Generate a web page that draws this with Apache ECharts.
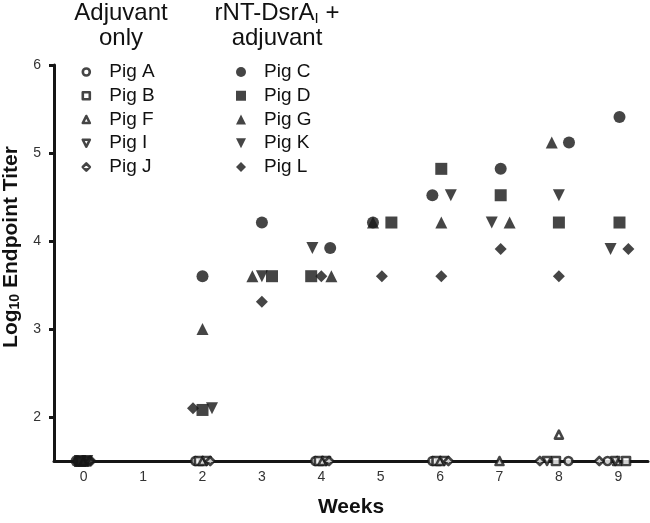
<!DOCTYPE html>
<html>
<head>
<meta charset="utf-8">
<script src="https://cdn.jsdelivr.net/npm/echarts@6/dist/echarts.min.js"></script>
<style>
html,body{margin:0;padding:0;background:#fff;}
#chart{width:650px;height:523px;}
</style>
</head>
<body>
<div id="chart"></div>
<script>
// ---- data (x = week with the small horizontal spread seen in the figure, y = log10 titer) ----
const xTickLabels = [0, 1, 2, 3, 4, 5, 6, 7, 8, 9];
const yTickLabels = [2, 3, 4, 5, 6];

// Adjuvant only (open symbols)
const pigA = [[-0.10,1.5],[1.88,1.5],[3.90,1.5],[5.87,1.5],[8.16,1.5],[8.82,1.5]];
const pigB = [[-0.05,1.5],[1.94,1.5],[3.96,1.5],[5.94,1.5],[7.95,1.5],[9.13,1.5]];
const pigF = [[0.00,1.5],[2.00,1.5],[4.02,1.5],[6.00,1.5],[7.00,1.5],[8.00,1.8],[8.98,1.5]];
const pigI = [[0.05,1.5],[2.07,1.5],[4.08,1.5],[6.07,1.5],[7.80,1.5],[8.95,1.5]];
const pigJ = [[0.10,1.5],[2.13,1.5],[4.13,1.5],[6.14,1.5],[7.68,1.5],[8.68,1.5]];

// rNT-DsrA_I + adjuvant (filled symbols)
const pigC = [[-0.12,1.5],[2.00,3.6],[3.00,4.21],[4.15,3.92],[4.87,4.21],[5.87,4.52],[7.02,4.82],[8.17,5.12],[9.02,5.41]];
const pigD = [[-0.06,1.5],[2.00,2.08],[3.17,3.6],[3.83,3.6],[5.18,4.21],[6.02,4.82],[7.02,4.52],[8.00,4.21],[9.02,4.21]];
const pigG = [[0.00,1.5],[2.00,3.0],[2.84,3.6],[4.17,3.6],[4.87,4.21],[6.02,4.21],[7.17,4.21],[7.88,5.12]];
const pigK = [[0.06,1.5],[2.16,2.1],[3.00,3.6],[3.85,3.92],[6.18,4.52],[6.87,4.21],[8.00,4.52],[8.87,3.91]];
const pigL = [[0.12,1.5],[1.84,2.1],[3.00,3.31],[4.00,3.6],[5.02,3.6],[6.02,3.6],[7.02,3.91],[8.00,3.6],[9.17,3.91]];

const adjuvantPigs = ['Pig A', 'Pig B', 'Pig F', 'Pig I', 'Pig J'];
const vaccinePigs = ['Pig C', 'Pig D', 'Pig G', 'Pig K', 'Pig L'];

const INV_TRI = 'path://M0,0L10,0L5,10Z';
const INK = '#161616';
const OPEN_BORDER = 2.6;

function openSeries(name, data, symbol) {
  return {
    name, type: 'scatter', data, symbol, symbolSize: 8, clip: false,
    itemStyle: { color: '#ffffff', borderColor: INK, borderWidth: OPEN_BORDER, borderJoin: 'round' },
    emphasis: { disabled: true }
  };
}
function filledSeries(name, data, symbol) {
  return {
    name, type: 'scatter', data, symbol, symbolSize: 12, clip: false,
    itemStyle: { color: INK, borderWidth: 0 },
    emphasis: { disabled: true }
  };
}

const chart = echarts.init(document.getElementById('chart'), null, { renderer: 'canvas' });

chart.setOption({
  animation: false,
  backgroundColor: '#ffffff',
  title: [
    {
      text: 'Adjuvant\nonly', left: 121, top: 1, textAlign: 'center', padding: 0,
      textStyle: { fontFamily: 'Liberation Sans', fontSize: 24, fontWeight: 'normal', color: '#111', lineHeight: 25 }
    },
    {
      text: 'rNT-DsrA{sub|I} +\nadjuvant', left: 277, top: 1, textAlign: 'center', padding: 0,
      textStyle: {
        fontFamily: 'Liberation Sans', fontSize: 24, fontWeight: 'normal', color: '#111', lineHeight: 25,
        rich: { sub: { fontFamily: 'Liberation Sans', fontSize: 15, color: '#111', verticalAlign: 'bottom', lineHeight: 25, padding: [8, 0, 0, 0] } }
      }
    }
  ],
  legend: [
    {
      data: adjuvantPigs.map(n => ({ name: n, itemStyle: { borderWidth: OPEN_BORDER, borderColor: INK, borderJoin: 'round' } })),
      orient: 'vertical', left: 81.5, top: 62, padding: 0, itemGap: 3.75,
      itemWidth: 7, itemHeight: 7,
      textStyle: { fontFamily: 'Liberation Sans', fontSize: 19, color: '#111', lineHeight: 20, padding: [0, 0, 0, 14.5] },
      selectedMode: false
    },
    {
      data: vaccinePigs,
      orient: 'vertical', left: 236, top: 62, padding: 0, itemGap: 3.75,
      itemWidth: 10, itemHeight: 10,
      textStyle: { fontFamily: 'Liberation Sans', fontSize: 19, color: '#111', lineHeight: 20, padding: [0, 0, 0, 13] },
      selectedMode: false
    }
  ],
  grid: { left: 54, right: 2, top: 65, bottom: 62, containLabel: false, outerBoundsMode: 'none' },
  xAxis: {
    type: 'value', min: -0.5, max: 9.5,
    name: 'Weeks', nameLocation: 'middle', nameGap: 36,
    nameTextStyle: { fontFamily: 'Liberation Sans', fontSize: 21, fontWeight: 'bold', color: '#111' },
    axisLine: { show: true, onZero: false, lineStyle: { color: INK, width: 3 } },
    axisTick: { show: false },
    splitLine: { show: false },
    axisLabel: {
      customValues: xTickLabels, margin: 9,
      fontFamily: 'Liberation Sans', fontSize: 14, color: '#333'
    }
  },
  yAxis: {
    type: 'value', min: 1.5, max: 6,
    name: 'Log{sub|10} Endpoint Titer', nameLocation: 'middle', nameGap: 25, nameRotate: 90,
    nameTextStyle: {
      fontFamily: 'Liberation Sans', fontSize: 21, fontWeight: 'bold', color: '#111', padding: [0, 0, 0, 32],
      rich: { sub: { fontFamily: 'Liberation Sans', fontSize: 14, fontWeight: 'bold', color: '#111', verticalAlign: 'bottom', padding: [8, 0, 0, 0] } }
    },
    axisLine: { show: true, onZero: false, lineStyle: { color: INK, width: 3 } },
    axisTick: { show: true, customValues: yTickLabels, length: 5, lineStyle: { color: INK, width: 3 } },
    splitLine: { show: false },
    axisLabel: {
      customValues: yTickLabels, margin: 13,
      fontFamily: 'Liberation Sans', fontSize: 14, color: '#333'
    }
  },
  series: [
    openSeries('Pig A', pigA, 'circle'),
    openSeries('Pig B', pigB, 'rect'),
    openSeries('Pig F', pigF, 'triangle'),
    openSeries('Pig I', pigI, INV_TRI),
    openSeries('Pig J', pigJ, 'diamond'),
    filledSeries('Pig G', pigG, 'triangle'),
    filledSeries('Pig C', pigC, 'circle'),
    filledSeries('Pig D', pigD, 'rect'),
    filledSeries('Pig K', pigK, INV_TRI),
    filledSeries('Pig L', pigL, 'diamond')
  ]
});
</script>
</body>
</html>
